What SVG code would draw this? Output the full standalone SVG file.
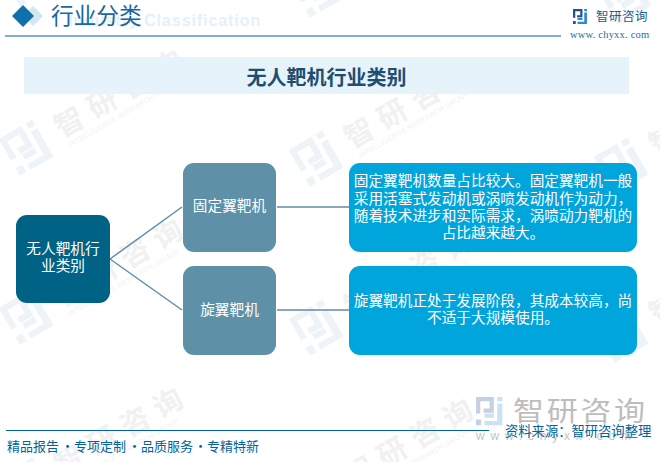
<svg xmlns="http://www.w3.org/2000/svg" width="660" height="462" viewBox="0 0 660 462">
<style>
text{font-family:"Noto Sans CJK SC","Noto Sans",sans-serif}
.n{fill:#fff;font-size:14.67px;text-anchor:middle}
.c{fill:none;stroke:#5F8FA8;stroke-width:1.5}
.wt{fill:#f1f1f2;font-size:29px;font-weight:700}
.we{fill:#f1f2f4;font-size:7px;font-family:"Liberation Sans",sans-serif}
.lat{font-family:"Liberation Sans",sans-serif}
.ser{font-family:"Liberation Serif",serif}
.ft{fill:#00639A;font-size:13px}
</style>
<defs>
<path id="markL" d="M0 0H21V19H9V14H16V5H5V20H0ZM0 27h6v7H0z"/>
<path id="markR" d="M25 0h6v5h-6zM25 8h6v26H10v-5h15zM10 20h11v5H10z"/>
<g id="wm" transform="rotate(-30)">
<g transform="translate(-20,-22) scale(1.25)" fill="#EEF3F8"><use href="#markL"/><use href="#markR"/></g>
<text class="wt" x="35" y="9" letter-spacing="9">智研咨询</text>
<text class="we" x="38" y="21" textLength="126">INTELLIGENCE RESEARCH GROUP</text>
</g>
</defs>
<rect width="660" height="462" fill="#fff"/>
<g id="watermarks">
<use href="#wm" transform="translate(27,-21)"/>
<use href="#wm" transform="translate(317,-10)"/>
<use href="#wm" transform="translate(625,-3)"/>
<use href="#wm" transform="translate(27,148)"/>
<use href="#wm" transform="translate(317,159)"/>
<use href="#wm" transform="translate(622,166)"/>
<use href="#wm" transform="translate(27,317)"/>
<use href="#wm" transform="translate(317,328)"/>
<use href="#wm" transform="translate(622,335)"/>
<use href="#wm" transform="translate(27,486)"/>
<use href="#wm" transform="translate(317,497)"/>
<use href="#wm" transform="translate(622,504)"/>
</g>
<g id="header">
<path d="M33 6l10 10-10 10-10-10z" fill="#D5E6F0"/>
<path d="M23 5l11 11-11 11-11-11z" fill="#1070AC"/>
<text class="lat" x="68" y="26" font-size="16.500" font-weight="700" fill="#E3F1FB" letter-spacing=".7">Industry Classification</text>
<text x="51" y="24" font-size="22.7" fill="#17689F">行业分类</text>
<path d="M5 36H561" stroke="#00639A" stroke-width="1"/>
<g transform="translate(573,9) scale(.45,.44)"><use href="#markL" fill="#2A4E96"/><use href="#markR" fill="#2A8BD0"/></g>
<text x="596" y="21" font-size="12.500" fill="#1D5C8C" letter-spacing=".5">智研咨询</text>
<text class="ser" x="570" y="38" font-size="10.500" fill="#2A6A98" letter-spacing=".2">www. chyxx. com</text>
</g>
<g id="title">
<rect x="24" y="57" width="605" height="37" fill="#E6F3FB"/>
<text x="326.500" y="85" font-size="20" font-weight="700" fill="#1E4E70" text-anchor="middle">无人靶机行业类别</text>
</g>
<g id="bottom-logo">
<g transform="translate(476,397) scale(.85,.83)"><use href="#markL" fill="#C5D0E2"/><use href="#markR" fill="#C9E3F2"/></g>
<text transform="translate(513,421) scale(1.15,1)" font-size="27" fill="#BDBDBD" letter-spacing="2.300">智研咨询</text>
<text class="lat" x="476" y="440" font-size="12" fill="#C4C4C4" letter-spacing="5.800">www.chyxx.com</text>
</g>
<g id="connectors">
<path class="c" d="M110 259L182 207M110 259L182 310M277 207H349M277 310H349"/>
</g>
<g id="root"><rect x="16" y="215" width="94" height="88" rx="11" fill="#006386"/>
<text class="n" x="63" y="254">无人靶机行</text><text class="n" x="63" y="271">业类别</text></g>
<g id="fixed"><rect x="183" y="163" width="93" height="89" rx="11" fill="#5E90A8"/>
<text class="n" x="229.500" y="211">固定翼靶机</text></g>
<g id="rotary"><rect x="183" y="266" width="93" height="89" rx="11" fill="#5E90A8"/>
<text class="n" x="229.500" y="315">旋翼靶机</text></g>
<g id="fixed-desc"><rect x="349" y="163" width="288" height="89" rx="11" fill="#00A5DC"/>
<text class="n" x="493" y="186">固定翼靶机数量占比较大。固定翼靶机一般</text>
<text class="n" x="493" y="203.500">采用活塞式发动机或涡喷发动机作为动力&#65292;</text>
<text class="n" x="493" y="220.500">随着技术进步和实际需求&#65292;涡喷动力靶机的</text>
<text class="n" x="493" y="237.500">占比越来越大。</text></g>
<g id="rotary-desc"><rect x="349" y="266" width="288" height="89" rx="11" fill="#00A5DC"/>
<text class="n" x="493" y="306">旋翼靶机正处于发展阶段&#65292;其成本较高&#65292;尚</text>
<text class="n" x="493" y="323">不适于大规模使用。</text></g>
<g id="footer">
<path d="M6 430.500H489" stroke="#00639A" stroke-width="1"/>
<text x="505" y="436" font-size="13.300" fill="#00639A">资料来源&#65306;智研咨询整理</text>
<text class="ft" y="451"><tspan x="7">精品报告</tspan><tspan x="61">·</tspan><tspan x="74">专项定制</tspan><tspan x="128">·</tspan><tspan x="141">品质服务</tspan><tspan x="194">·</tspan><tspan x="207">专精特新</tspan></text>
</g>
</svg>
